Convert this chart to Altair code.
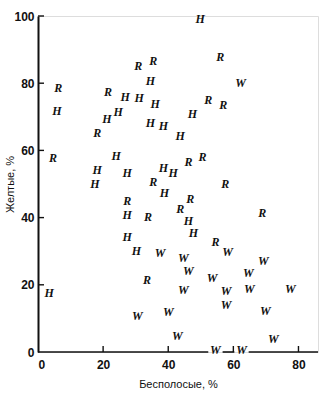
import altair as alt
import pandas as pd

# H points
h_x = [49.8, 34.5, 5.8, 26.8, 31.1, 36.0, 24.6, 21.2, 34.5, 38.5, 47.4, 43.7, 24.0,
       18.2, 17.5, 27.4, 38.5, 41.5, 38.8, 27.4, 46.2, 47.7, 27.4, 30.2, 3.4]
h_y = [99.1, 80.7, 71.7, 75.9, 75.6, 73.8, 71.4, 69.3, 68.2, 67.3, 70.8, 64.3, 58.3,
       54.2, 50.0, 53.3, 54.8, 53.3, 47.3, 40.8, 39.0, 35.4, 34.2, 30.0, 17.6]
# R points
r_x = [56.0, 30.8, 35.4, 6.2, 21.5, 18.2, 52.3, 56.9, 4.6, 46.2, 50.5, 35.4, 57.5,
       27.4, 33.8, 46.8, 43.7, 68.9, 54.5, 33.5]
r_y = [87.8, 85.1, 86.6, 78.6, 77.4, 65.2, 75.0, 73.5, 57.7, 56.5, 58.0, 50.6, 50.0,
       44.9, 40.2, 45.5, 42.6, 41.4, 32.7, 21.4]
# W points
w_x = [62.2, 58.2, 37.5, 44.6, 46.2, 69.2, 64.6, 53.5, 57.8, 64.9, 44.6, 77.5, 57.8,
       69.8, 40.0, 30.5, 42.8, 72.3, 54.5, 62.5]
w_y = [80.1, 29.8, 29.5, 28.0, 24.1, 27.1, 23.5, 22.0, 18.2, 18.8, 18.5, 18.8, 14.0,
       12.2, 11.9, 10.7, 4.8, 3.9, 0.5, 0.5]

x_ticks = [0, 20, 40, 60, 80]
y_ticks = [0, 20, 40, 60, 80, 100]
x_max = 86
y_max = 100

rows = []
for lab, xs, ys in (("H", h_x, h_y), ("R", r_x, r_y), ("W", w_x, w_y)):
    for a, b in zip(xs, ys):
        rows.append({"x": a, "y": b, "lab": lab})
df = pd.DataFrame(rows)

# x-axis line segments broken around the letters that sit on the axis
on_axis = sorted(a for a, b in zip(w_x, w_y) if b < 1.5)
gap = 2.2
starts = [0] + [a + gap for a in on_axis]
ends = [a - gap for a in on_axis] + [x_max]
seg_df = pd.DataFrame({"x": starts, "x2": ends})

W, H = 280, 336
xs = alt.Scale(domain=[0, x_max], nice=False, zero=False)
ys = alt.Scale(domain=[0, y_max], nice=False, zero=False)

base_axis = dict(grid=False, ticks=False, labelFont="Liberation Sans", labelFontSize=12,
                 labelFontWeight="bold", labelColor="#111", titleFont="Liberation Sans",
                 titleFontSize=11, titleFontWeight="normal", titleColor="#111")

points = alt.Chart(df).mark_text(
    font="Liberation Serif", fontSize=12, fontStyle="italic", fontWeight="bold",
    color="#111", align="center", baseline="middle"
).encode(
    x=alt.X("x:Q", scale=xs, axis=alt.Axis(
        values=x_ticks, title="Бесполосые, %", domain=False, labelPadding=7,
        titleY=32, titleBaseline="middle", **base_axis)),
    y=alt.Y("y:Q", scale=ys, axis=alt.Axis(
        values=y_ticks, title="Желтые, %", domain=True, domainColor="#111",
        domainWidth=2, labelPadding=4, titleAngle=270, titleX=-28, titleY=168,
        titleAlign="center", titleBaseline="middle", **base_axis)),
    text="lab:N",
)

segs = alt.Chart(seg_df).mark_rule(color="#111", strokeWidth=1.6).encode(
    x=alt.X("x:Q", scale=xs), x2="x2:Q", y=alt.value(H))

xt = alt.Chart(pd.DataFrame({"v": x_ticks[1:]})).mark_rule(color="#111", strokeWidth=1.4).encode(
    x=alt.X("v:Q", scale=xs), y=alt.value(H), y2=alt.value(H - 6))
yt = alt.Chart(pd.DataFrame({"v": y_ticks[1:]})).mark_rule(color="#111", strokeWidth=1.4).encode(
    y=alt.Y("v:Q", scale=ys), x=alt.value(0), x2=alt.value(6))

chart = alt.layer(points, segs, xt, yt).properties(
    width=W, height=H,
    autosize=alt.AutoSizeParams(type="none"),
    padding={"left": 38, "top": 16, "right": 8, "bottom": 45},
).configure_view(stroke=None).configure(background="white")

chart.save("out.html", embed_options={"renderer": "svg", "actions": False})
